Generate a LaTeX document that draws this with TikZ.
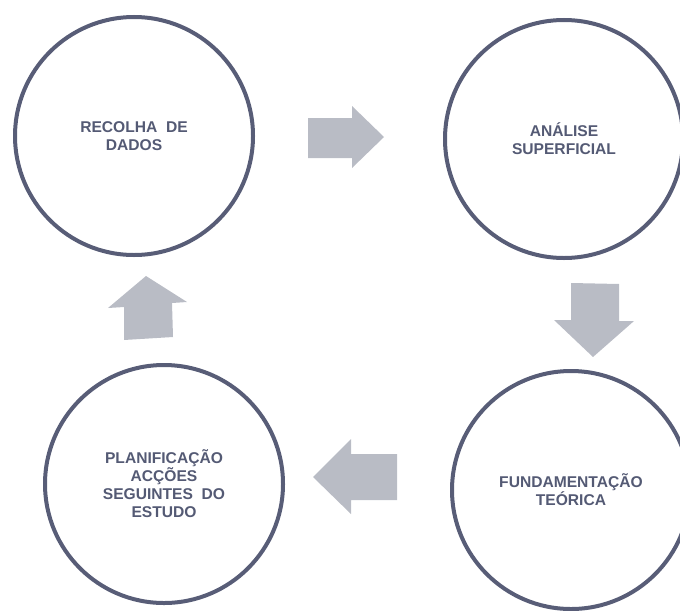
\documentclass[tikz,border=0pt]{standalone}
\usepackage{fontspec}
\setmainfont{Liberation Sans}
\usepackage{xcolor}
\usepackage{tikz}

\definecolor{ringslate}{RGB}{88,93,119}
\definecolor{textslate}{RGB}{84,90,116}
\definecolor{arrowgray}{RGB}{185,188,197}

\begin{document}
\begin{tikzpicture}[
    x=0.75pt, y=-0.75pt,
    stage/.style={circle, draw=ringslate, line width=3pt, minimum size=178.5pt, inner sep=0pt, align=center,
        text=textslate, font=\bfseries\fontsize{11.7}{13.5}\selectfont},
    blockarrow/.style={fill=arrowgray},
]
\useasboundingbox (0,0) rectangle (680,610);

% --- STAGES ---
\node[stage] (recolha)  at (134,136) {RECOLHA\ \ DE\\DADOS};
\node[stage] (analise)  at (564,139) {ANÁLISE\\SUPERFICIAL};
\node[stage] (fundam)   at (571,490) {FUNDAMENTAÇÃO\\TEÓRICA};
\node[stage] (planif)   at (164,484) {PLANIFICAÇÃO\\ACÇÕES\\SEGUINTES\ \ DO\\ESTUDO};

% --- BLOCK ARROWS ---
% recolha -> analise
\fill[blockarrow] (308,118) -- (352,118) -- (352,106) -- (384,137) -- (352,168) -- (352,158) -- (308,158) -- cycle;
% analise -> fundamentacao
\fill[blockarrow] (571,283) -- (619,284) -- (619,321) -- (634,321) -- (593,357) -- (554,320) -- (571,320) -- cycle;
% fundamentacao -> planificacao
\fill[blockarrow] (397,454) -- (351,454) -- (351,439) -- (313,477) -- (351,514) -- (351,500) -- (397,500) -- cycle;
% planificacao -> recolha
\fill[blockarrow] (124,340) -- (173,337) -- (172,303) -- (187,302) -- (146,276) -- (108,308) -- (124,307) -- cycle;

\end{tikzpicture}
\end{document}
